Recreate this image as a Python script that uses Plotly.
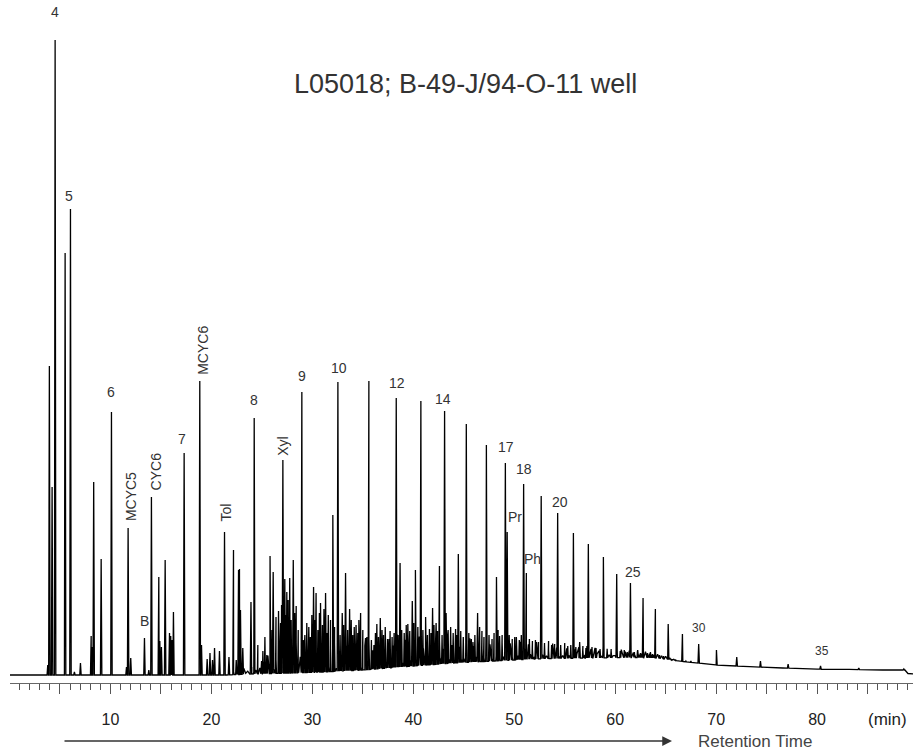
import numpy as np
import plotly.graph_objects as go

# ---------------- DATA ----------------
# Resolved peaks: retention time (min) and apex level (signal units above the initial baseline)
peak_time = [3.79, 3.95, 4.22, 4.52, 5.51, 6.04, 6.43, 7.03, 8.09, 8.17, 8.34, 9.08, 10.10,
             11.59, 11.75, 12.01, 13.37, 13.80, 14.06, 14.79, 14.89, 15.05, 15.42, 15.85, 15.97,
             16.11, 16.24, 17.30, 18.85, 19.02, 19.58, 19.86, 20.11, 20.31, 20.80, 21.30, 21.74,
             22.19, 22.46, 22.69, 22.78, 22.88, 23.11, 23.92, 24.24, 24.97, 25.49, 25.81, 26.12,
             26.65, 26.85, 27.08, 27.27, 27.47, 27.76, 28.11, 28.40, 28.96, 29.26, 29.65, 30.12,
             30.37, 30.81, 31.31, 31.58, 32.03, 32.53, 32.96, 33.29, 33.69, 34.33, 34.61, 34.78,
             35.27, 35.60, 36.10, 36.39, 36.73, 37.22, 38.31, 38.69, 39.46, 39.90, 40.21, 40.75,
             41.22, 41.91, 42.26, 42.59, 43.10, 43.25, 44.19, 44.46, 45.25, 45.91, 46.37, 46.57,
             47.24, 48.24, 48.55, 49.12, 49.30, 50.21, 50.93, 51.20, 52.67, 54.30, 55.86, 56.48,
             57.34, 58.83, 60.15, 61.51, 62.23, 62.76, 63.49, 63.98, 65.25, 66.66, 68.27, 70.03,
             72.04, 74.39, 77.13, 80.34, 84.13, 88.59]
peak_apex = [10, 309, 188, 635, 422, 466, 3, 12, 39, 28, 193, 116, 263,
             8, 147, 17, 37, 5, 178, 98, 34, 28, 115, 42, 39,
             35, 63, 222, 294, 30, 16, 22, 15, 27, 24, 143, 18,
             125, 15, 105, 106, 65, 27, 73, 257, 14, 20, 119, 103,
             64, 52, 215, 96, 83, 97, 115, 69, 283, 40, 48, 88,
             82, 72, 82, 60, 160, 293, 62, 102, 66, 50, 55, 62,
             37, 294, 30, 51, 57, 48, 277, 112, 51, 74, 105, 274,
             58, 67, 52, 109, 264, 62, 46, 121, 251, 33, 62, 48,
             230, 98, 39, 212, 143, 38, 191, 102, 179, 162, 142, 33,
             131, 118, 101, 92, 25, 77, 23, 66, 51, 41, 31, 25,
             18, 14, 11, 9, 7, 6]

# Small unlabelled peaks riding on the unresolved hump
minor_time = [24.6, 25.1, 25.3, 26.0, 26.4, 26.95, 27.38, 27.6, 27.9, 28.25, 28.6, 29.1, 29.45,
              29.8, 29.95, 30.25, 30.55, 30.7, 31.0, 31.15, 31.45, 31.8, 32.2, 32.75, 33.1, 33.5,
              33.85, 34.0, 34.15, 34.5, 35.0, 35.4, 35.85, 36.25, 36.55, 36.9, 37.05, 37.45, 37.7,
              37.9, 38.1, 38.5, 38.85, 39.1, 39.3, 39.65, 40.05, 40.45, 40.95, 41.4, 41.6, 41.75,
              42.05, 42.4, 42.85, 43.45, 43.7, 43.95, 44.3, 44.7, 44.95, 45.5, 45.75, 46.1, 46.8,
              47.0, 47.5, 47.8, 48.0, 48.4, 48.8, 49.5, 49.8, 50.05, 50.5, 50.7, 51.5, 51.8, 52.1,
              52.4, 53.0, 53.4, 53.7, 54.0, 54.6, 55.0, 55.3, 55.6, 56.1, 56.8, 57.1, 57.7, 58.1,
              58.5, 59.2, 59.6, 60.5, 60.9, 61.2, 61.9, 62.5, 63.2, 63.7, 64.4, 64.8, 65.6, 66.0,
              67.0, 67.5]
minor_apex = [30, 24, 38, 45, 58, 70, 60, 75, 55, 62, 45, 35, 52,
              38, 60, 55, 45, 62, 50, 66, 42, 55, 48, 40, 50, 45,
              55, 40, 48, 42, 45, 38, 35, 42, 38, 45, 40, 36, 44,
              38, 42, 40, 45, 42, 50, 44, 52, 48, 45, 40, 46, 42,
              50, 44, 40, 45, 48, 42, 40, 44, 38, 42, 36, 40, 44,
              38, 40, 36, 42, 45, 40, 40, 36, 38, 35, 40, 36, 34, 35,
              33, 32, 34, 30, 31, 30, 32, 29, 30, 28, 29, 27, 28, 27,
              26, 25, 26, 24, 25, 23, 23, 22, 22, 21, 20, 19, 16, 15,
              14, 14]

# Baseline drift of the detector signal
baseline_time = [0.0, 21.5, 24.0, 28.0, 31.0, 35.0, 40.0, 44.0, 48.0, 52.0, 57.0, 62.0, 64.0,
                 66.7, 70.0, 73.3, 76.6, 80.0, 83.2, 86.5, 88.7, 89.0, 89.6]
baseline_level = [0, 0, 1, 2, 3, 5, 9, 12, 14, 16, 17, 17.5, 17,
                  13.5, 10, 8.3, 7, 5.8, 5.6, 5, 5, 1.5, 1]

# Unresolved "grass" above the baseline, sampled every 0.2 min from 22.0 min
grass_start = 22.0
grass_step = 0.2
grass_level = [0, 3, 0, 5, 1, 0, 6, 1, 3, 0, 7, 2, 4, 0, 6,
               2, 12, 3, 18, 0, 22, 4, 14, 1, 26, 5, 13, 0, 28, 3, 20, 6, 30, 2, 16, 4, 24, 0, 19, 5,
               3, 27, 0, 33, 4, 17, 1, 36, 5, 23, 0, 29, 3, 20, 6, 35, 2, 25, 4, 31, 0, 21, 5, 28, 3,
               2, 24, 5, 30, 0, 19, 4, 34, 1, 25, 6, 16, 3, 29, 0, 22, 5, 33, 2, 20, 4, 27, 0, 17, 6,
               3, 21, 0, 29, 4, 17, 1, 25, 5, 31, 0, 20, 3, 24, 6, 15, 2, 28, 4, 18, 0, 23, 5, 16, 3,
               4, 20, 0, 24, 3, 16, 5, 21, 1, 13, 4, 25, 0, 17, 3, 22, 5, 14, 2, 18, 4, 12, 0, 17, 3,
               2, 14, 4, 18, 0, 11, 3, 15, 5, 10, 2, 17, 0, 13, 4, 14, 3, 9, 0, 15, 4, 11, 2, 13, 3,
               0, 10, 3, 13, 1, 9, 4, 11, 0, 8, 3, 12, 1, 9, 0, 10, 4, 7, 2, 11, 0, 9, 3, 7, 2,
               2, 7, 0, 8, 1, 6, 3, 7, 0, 5, 2, 6, 3, 4, 0, 6, 2, 4, 3, 3, 0, 4, 2, 3, 0, 3, 1, 2, 0, 1]

# Peak labels and the peak (retention time) each one names
label_text = ["4", "5", "6", "MCYC5", "B", "CYC6", "7", "MCYC6", "Tol", "8", "Xyl", "9", "10",
              "12", "14", "17", "Pr", "18", "Ph", "20", "25", "30", "35"]
label_time = [4.52, 6.04, 10.10, 11.75, 13.37, 14.06, 17.30, 18.85, 21.30, 24.24, 27.08, 28.96,
              32.53, 38.31, 43.10, 49.12, 49.30, 50.93, 51.20, 54.30, 61.51, 68.27, 80.34]

# X axis ticks
tick_values = [5, 10, 15, 20, 25, 30, 35, 40, 45, 50, 55, 60, 65, 70, 75, 80, 85]
tick_labels = ["", "10", "", "20", "", "30", "", "40", "", "50", "", "60", "", "70", "", "80", ""]

title_text = "L05018; B-49-J/94-O-11 well"
unit_text = "(min)"
axis_text = "Retention Time"

# ---------------- STYLE ----------------
# (dx px, dy px above apex to label centre, angle, font size)
LABEL_STYLE = {
    "4": (0, 28, 0, 14), "5": (-1, 13, 0, 14), "6": (0, 20, 0, 14),
    "MCYC5": (3, 31, -90, 14), "B": (0, 17, 0, 14), "CYC6": (5, 26, -90, 14),
    "7": (-2, 14, 0, 14), "MCYC6": (3, 31, -90, 14), "Tol": (1, 19, -90, 14),
    "8": (0, 18, 0, 14), "Xyl": (0, 14, -90, 14), "9": (0, 16, 0, 14),
    "10": (1, 14, 0, 14), "12": (1, 15, 0, 14), "14": (-2, 12, 0, 14),
    "17": (1, 16, 0, 14), "Pr": (8, 15, 0, 14), "18": (0, 15, 0, 14),
    "Ph": (6, 14, 0, 14), "20": (2, 11, 0, 14), "25": (3, 11, 0, 14),
    "30": (0, 16, 0, 12), "35": (1, 15, 0, 12),
}
FONT = "Liberation Sans, Arial, sans-serif"
TEXT_COLOR = "#333333"
HALF_WIDTH = 0.07
MINOR_HALF_WIDTH = 0.05

# ---------------- BUILD TRACE ----------------
bt = np.array(baseline_time, dtype=float)
bl = np.array(baseline_level, dtype=float)


def base(t):
    return float(np.interp(t, bt, bl))


pts = []
for times, apexes, hw in ((peak_time, peak_apex, HALF_WIDTH),
                          (minor_time, minor_apex, MINOR_HALF_WIDTH)):
    for t, a in zip(times, apexes):
        pts.append((t - hw, base(t - hw)))
        pts.append((t, float(a)))
        pts.append((t + hw, base(t + hw)))
for i, g in enumerate(grass_level):
    t = grass_start + grass_step * i
    pts.append((t, base(t) + g))
for t, l in zip(baseline_time, baseline_level):
    pts.append((t, float(l)))
pts.sort(key=lambda p: p[0])
xs = [p[0] for p in pts]
ys = [p[1] for p in pts]

fig = go.Figure()
fig.add_trace(go.Scatter(x=xs, y=ys, mode="lines",
                         line=dict(color="black", width=1.3, simplify=False),
                         hoverinfo="skip", showlegend=False))

apex_of = dict(zip(peak_time, peak_apex))
annotations = []
for txt, t in zip(label_text, label_time):
    dx, dy, ang, fs = LABEL_STYLE[txt]
    annotations.append(dict(
        x=t, y=apex_of[t], xref="x", yref="y", text=txt, showarrow=False,
        xanchor="center", yanchor="middle", xshift=dx, yshift=dy, textangle=ang,
        font=dict(family=FONT, size=fs, color=TEXT_COLOR)))

W, H = 914, 753
ML, MR, MT, MB = 10, 1, 0, 70
pw = W - ML - MR
ph = H - MT - MB


def px(xp):
    return (xp - ML) / pw


def py(yp):
    return (H - MB - yp) / ph


annotations.append(dict(x=px(465), y=py(84), xref="paper", yref="paper", text=title_text,
                        showarrow=False, xanchor="center", yanchor="middle",
                        font=dict(family=FONT, size=27, color=TEXT_COLOR)))
annotations.append(dict(x=px(887), y=py(719), xref="paper", yref="paper", text=unit_text,
                        showarrow=False, xanchor="center", yanchor="middle",
                        font=dict(family=FONT, size=17, color="#222222")))
annotations.append(dict(x=px(696), y=py(741), xref="paper", yref="paper", text=axis_text,
                        showarrow=False, xanchor="left", yanchor="middle",
                        font=dict(family=FONT, size=17, color="#444444")))
annotations.append(dict(x=px(672), y=py(741), xref="paper", yref="paper", text="",
                        showarrow=True, axref="pixel", ayref="pixel", ax=-(672 - 63), ay=0,
                        arrowhead=2, arrowsize=1.5, arrowwidth=1.3, arrowcolor="#333333"))

fig.update_layout(
    width=W, height=H,
    margin=dict(l=ML, r=MR, t=MT, b=MB, pad=0),
    paper_bgcolor="white", plot_bgcolor="white",
    showlegend=False,
    annotations=annotations,
    xaxis=dict(range=[0.05, 89.5], showline=True, linecolor="#666666", linewidth=1.3,
               showgrid=False, zeroline=False,
               ticks="outside", tickvals=tick_values, ticktext=tick_labels,
               ticklen=10, tickwidth=1, tickcolor="#555555",
               ticklabelstandoff=12,
               tickfont=dict(family=FONT, size=16, color="#222222"),
               minor=dict(dtick=1, tick0=0, ticks="outside", ticklen=6,
                          tickwidth=1, tickcolor="#555555", showgrid=False)),
    yaxis=dict(range=[-8, 675], visible=False, fixedrange=True),
)

fig.write_html("out.html", config={"displayModeBar": False},
               post_script="document.body.style.margin='0px';document.body.style.overflow='hidden';")
